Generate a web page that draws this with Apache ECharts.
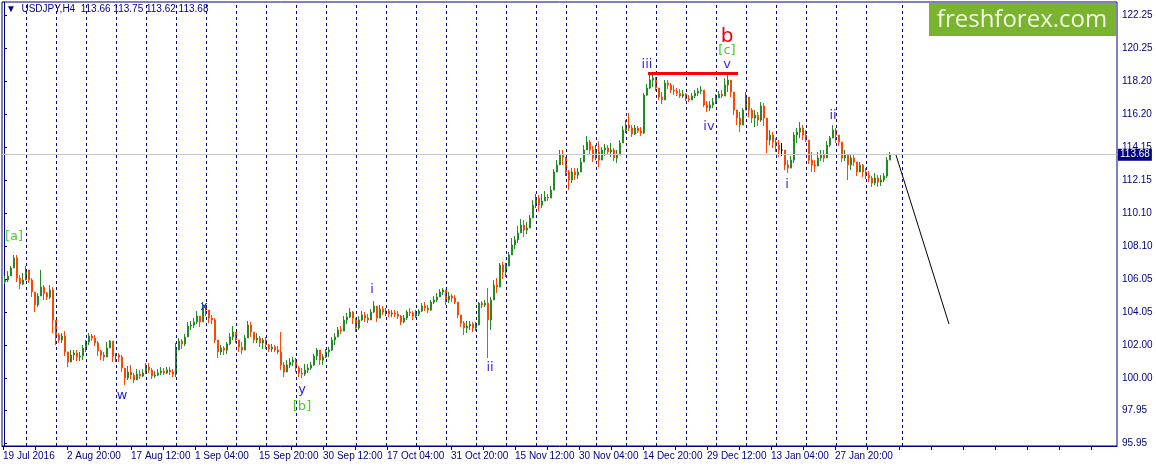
<!DOCTYPE html>
<html><head><meta charset="utf-8">
<script src="https://cdn.jsdelivr.net/npm/echarts/dist/echarts.min.js"></script>
<style>html,body{margin:0;padding:0;background:#fff}#c{width:1156px;height:467px}</style>
</head><body><div id="c"></div>
<script>
// ---- data (USDJPY H4, each candle = 3 H4 bars) ----
const barsPerCandle = 3;
const firstOpen = 105.87;
const closes = [
105.99,106.24,106.73,107.34,106.11,105.75,105.99,106.61,105.99,105.26,
104.46,105.01,105.56,105.19,104.95,105.38,103.54,102.62,102.31,102.56,
101.58,100.96,101.39,101.51,101.27,101.33,101.82,102.19,102.56,102.43,
102.13,101.64,101.39,101.27,101.82,102.25,101.33,101.39,101.27,100.59,
99.98,100.35,100.16,99.86,100.22,100.10,100.29,100.65,100.47,100.10,
100.16,100.29,100.41,100.29,100.47,100.35,100.22,101.70,102.25,102.07,
102.50,103.17,103.23,103.42,103.78,103.42,104.27,104.15,103.66,103.54,
102.31,101.58,101.82,101.70,102.07,102.50,102.80,102.31,101.88,101.70,
102.43,103.23,102.80,102.31,102.43,102.13,102.31,102.01,101.76,101.88,
101.70,101.58,100.78,100.35,100.78,100.96,101.08,100.59,100.29,100.22,
100.47,100.59,100.78,101.33,101.70,101.08,101.27,101.58,101.70,102.31,
102.50,102.93,102.86,103.54,103.72,104.03,103.66,103.05,103.54,103.85,
103.66,103.54,104.03,104.40,103.66,104.21,104.03,104.09,103.91,103.97,
103.91,103.78,103.42,103.66,104.03,103.97,103.78,103.91,104.09,104.40,
104.27,104.15,104.64,104.77,104.95,105.26,105.38,104.77,105.01,104.89,
104.64,103.85,103.35,103.05,103.17,103.29,103.05,103.23,104.58,104.46,
104.58,103.54,104.77,105.68,105.56,106.91,106.48,106.85,107.53,108.14,
108.45,108.88,109.37,109.06,109.18,109.80,110.59,111.02,110.59,110.84,
111.08,111.02,111.51,112.62,113.05,113.66,113.54,112.62,112.13,112.62,
112.43,112.62,113.23,113.97,114.46,113.97,113.48,113.85,113.35,113.97,
114.09,113.85,113.97,113.48,113.66,114.40,115.19,115.50,115.32,114.95,
115.32,115.13,115.01,117.34,117.77,118.26,118.38,117.77,117.22,117.04,
118.08,117.96,117.65,117.59,117.46,117.28,117.40,117.10,117.04,117.28,
117.46,117.59,117.65,116.73,116.54,116.73,116.91,117.16,117.40,117.28,
117.96,118.26,117.53,116.42,115.93,115.50,116.42,117.22,116.42,115.93,
116.11,115.81,116.67,115.93,114.58,114.89,114.46,114.27,113.97,113.97,
113.05,112.86,113.35,114.89,115.07,115.32,114.89,114.58,113.35,113.05,
112.99,113.48,113.66,113.48,114.27,114.70,115.19,114.89,114.46,113.48,
113.66,113.05,113.48,113.23,112.62,113.05,112.62,112.43,112.25,111.94,
112.25,112.00,112.13,112.37,113.35,113.68];
const highs = [
106.24,106.54,106.85,107.53,107.53,106.30,106.42,106.85,106.48,106.11,
105.26,105.19,106.61,105.68,105.26,105.68,105.56,103.23,102.74,102.74,
102.86,101.58,101.70,101.70,101.70,101.58,102.01,102.31,102.74,102.68,
102.62,102.25,101.70,101.58,102.19,102.31,102.25,101.51,101.51,101.39,
100.59,100.72,100.78,100.29,100.53,100.47,100.53,100.90,100.90,100.59,
100.41,100.53,100.65,100.59,100.65,100.65,100.53,102.13,102.43,102.37,
102.68,103.42,103.48,103.66,104.09,103.72,104.64,104.46,104.03,103.85,
103.66,102.19,102.01,101.94,102.19,102.74,103.17,102.80,102.31,102.19,
102.62,103.48,103.42,102.80,102.74,102.56,102.43,102.50,102.07,102.07,
102.01,101.94,102.80,100.96,101.08,101.21,101.27,101.21,100.72,100.59,
100.84,100.84,100.96,101.45,101.82,101.58,101.45,101.76,101.88,102.50,
102.74,103.11,103.17,103.78,103.97,104.27,104.09,103.54,103.78,104.09,
104.03,103.91,104.21,104.70,104.40,104.46,104.40,104.27,104.21,104.15,
104.15,104.09,103.85,103.85,104.15,104.27,104.09,104.15,104.21,104.58,
104.64,104.46,104.77,105.01,105.19,105.44,105.50,105.26,105.26,105.13,
105.07,104.58,103.85,103.48,103.48,103.48,103.42,103.42,104.64,104.70,
104.77,105.50,104.95,105.99,106.11,107.04,107.10,107.04,107.71,108.57,
108.69,109.31,109.73,109.67,109.55,109.98,110.90,111.27,111.21,111.27,
111.45,111.27,111.76,112.80,113.35,113.97,113.97,113.48,112.74,112.86,
112.86,112.86,113.48,114.27,114.83,114.58,114.21,114.27,114.52,114.15,
114.34,114.27,114.40,114.09,113.97,114.58,115.44,115.81,116.24,115.50,
115.50,115.44,115.38,117.46,118.02,118.69,118.57,118.45,117.77,117.53,
118.26,118.26,118.08,117.96,117.77,117.71,117.65,117.46,117.34,117.46,
117.65,117.77,117.89,117.53,116.97,116.97,117.16,117.40,117.59,117.65,
118.38,118.63,118.14,117.16,116.42,116.30,116.54,117.53,117.16,116.54,
116.42,116.30,116.91,116.85,115.38,115.19,115.07,114.70,114.58,114.40,
113.78,113.35,113.60,115.07,115.32,115.69,115.50,115.19,114.09,113.85,
113.35,113.85,113.97,113.97,114.52,114.83,115.50,115.32,114.83,114.09,
113.97,113.54,113.66,113.66,113.23,113.23,113.11,112.86,112.68,112.37,
112.56,112.43,112.43,112.56,113.54,113.85];
const lows = [
105.75,105.87,106.24,106.73,105.87,105.44,105.68,105.99,105.81,104.95,
104.03,104.34,105.01,104.77,104.77,104.83,102.74,102.01,102.13,102.13,
101.33,100.65,100.96,101.08,101.02,101.02,101.08,101.58,102.01,102.25,
101.94,101.33,101.08,101.02,101.27,101.82,100.96,100.96,100.96,100.35,
99.55,99.86,99.92,99.67,99.98,99.92,100.04,100.22,100.29,99.92,
99.98,100.10,100.16,100.16,100.22,100.16,100.04,100.04,101.88,101.76,
101.94,102.56,102.93,103.05,103.29,103.11,103.54,103.78,103.35,103.29,
102.13,101.21,101.39,101.39,101.45,102.01,102.31,102.13,101.58,101.45,
101.70,102.43,102.50,102.13,102.13,101.88,101.76,101.76,101.58,101.58,
101.58,101.45,100.47,100.04,100.41,100.59,100.72,100.35,100.04,99.98,
100.10,100.29,100.47,100.72,101.08,100.78,100.78,101.21,101.27,101.64,
102.01,102.50,102.68,102.93,103.29,103.66,103.29,102.80,102.93,103.48,
103.42,103.35,103.54,103.97,103.42,103.66,103.85,103.78,103.72,103.72,
103.72,103.60,103.23,103.35,103.54,103.78,103.54,103.66,103.78,104.03,
104.09,103.97,104.09,104.52,104.64,105.01,105.07,104.46,104.58,104.64,
104.52,103.66,103.11,102.62,102.74,102.93,102.80,102.86,103.66,104.27,
104.34,101.21,102.93,105.07,105.19,106.18,106.05,106.18,107.04,107.71,
107.89,108.26,108.88,108.63,108.81,109.18,110.16,110.41,110.22,110.41,
110.84,110.84,111.02,112.13,112.62,113.11,113.05,112.37,111.51,111.94,
112.13,112.19,112.74,113.35,113.97,113.66,113.23,113.35,112.92,113.48,
113.60,113.72,113.54,113.29,113.17,113.97,114.77,115.01,115.13,114.77,
114.89,115.01,114.83,114.95,117.28,117.71,117.83,117.59,117.04,116.79,
117.28,117.71,117.46,117.34,117.28,117.16,117.16,116.97,116.91,117.04,
117.16,117.28,117.40,116.61,116.30,116.36,116.54,116.79,117.16,117.16,
117.34,117.53,117.22,116.11,115.50,115.07,115.81,116.73,115.99,115.62,
115.38,115.44,115.69,115.44,113.78,114.27,114.09,113.85,113.54,113.60,
112.74,112.56,112.92,113.17,114.40,114.70,114.58,114.46,113.11,112.62,
112.62,113.05,113.29,113.23,113.48,114.15,114.77,114.40,114.21,113.23,
113.29,112.13,112.74,112.99,112.37,112.68,112.31,112.19,112.00,111.70,
111.82,111.70,111.76,112.00,112.25,113.35];

const xTickLabels = ['19 Jul 2016','2 Aug 20:00','17 Aug 12:00','1 Sep 04:00','15 Sep 20:00','30 Sep 12:00','17 Oct 04:00','31 Oct 20:00','15 Nov 12:00','30 Nov 04:00','14 Dec 20:00','29 Dec 12:00','13 Jan 04:00','27 Jan 20:00'];
const yTickLabels = ['95.95','97.95','100.00','102.00','104.05','106.05','108.10','110.10','112.15','114.15','116.20','118.20','120.25','122.25'];
const lastPrice = 113.68;
const headerText = 'USDJPY,H4  113.66 113.75 113.62 113.68';
// wave annotations: [text, bar index, price, kind]
const waveLabels = [
  ['[a]',10,108.63,'green'],['w',118,98.88,'blue'],['x',200,104.34,'blue'],
  ['y',298,99.24,'blue'],['[b]',298,98.22,'green'],['i',368,105.38,'violet'],
  ['ii',486,100.59,'violet'],['iii',643,119.18,'violet'],['iv',705,115.40,'violet'],
  ['v',723,119.22,'violet'],['[c]',723,120.04,'green'],['b',723,120.92,'red'],
  ['i',783,111.82,'violet'],['ii',829,116.05,'violet']
];
const resistance = {fromBar:644, toBar:734, price:118.70};
const projection = [[892,113.66],[945,103.29]];

// ---- build ----
const candleData = closes.map((c,i)=>{
  const o = i===0 ? firstOpen : closes[i-1];
  const h = Math.max(highs[i], o, c), l = Math.min(lows[i], o, c);
  return [i*barsPerCandle+1, o, c, l, h];
});
const yBottom = 95.95, yTop = 122.25;
const yStep = (yTop - yBottom)/(yTickLabels.length-1);
const yTicks = yTickLabels.map((_,k)=>yBottom + k*yStep);
const xLabelVals = xTickLabels.map((_,k)=>k*64-1);
const xTickVals = []; for(let v=-1; v<=1113; v+=32) xTickVals.push(v);
const sepVals = []; for(let k=0;k<=28;k++) sepVals.push(22.5+30*k); sepVals.push(898.5);

const NAVY = '#000080';
const FONT = 'Liberation Sans, Arial, sans-serif';
const colors = {green:'#4CCB2A', blue:'#1E1ED8', violet:'#3A1ED8', red:'#F0000F'};

const chart = echarts.init(document.getElementById('c'), null, {renderer:'canvas'});
chart.setOption({
  animation:false,
  backgroundColor:'#fff',
  grid:{left:2, top:2, width:1115, height:444, show:true, borderColor:NAVY, borderWidth:1, backgroundColor:'#fff', outerBoundsMode:'none', containLabel:false},
  title:{text:'\u25BC  ' + headerText, left:6, top:4, padding:0,
    textStyle:{fontSize:10, fontWeight:'normal', color:NAVY, fontFamily:FONT}},
  xAxis:{type:'value', min:-2, max:1113, position:'bottom',
    axisLine:{show:true, lineStyle:{color:NAVY, width:1}},
    axisTick:{show:true, inside:false, length:4, customValues:xTickVals, lineStyle:{color:NAVY}},
    axisLabel:{show:true, customValues:xLabelVals, align:'left', margin:5, fontSize:10, color:NAVY, fontFamily:FONT,
      formatter:(v)=>xTickLabels[Math.round((v+1)/64)] || ''},
    splitLine:{show:false}},
  yAxis:{type:'value', min:95.81, max:123.05, position:'right', scale:true,
    axisLine:{show:true, lineStyle:{color:NAVY, width:1}},
    axisTick:{show:true, inside:false, length:3, customValues:yTicks, lineStyle:{color:NAVY}},
    axisLabel:{show:true, customValues:yTicks, margin:5, fontSize:10, color:NAVY, fontFamily:FONT,
      formatter:(v)=>yTickLabels[Math.round((v-yBottom)/yStep)] || ''},
    splitLine:{show:false}},
  graphic:[
    {type:'rect', shape:{x:929, y:3, width:187, height:33}, style:{fill:'#7AB32E'}, z:100},
    {type:'text', x:1022, y:20, style:{text:'freshforex.com', fill:'#F2F7E8', font:'24px "Open Sans", sans-serif', align:'center', verticalAlign:'middle'}, z:101}
  ],
  series:[
    {type:'line', data:[], z:1, silent:true,
      markLine:{silent:true, symbol:'none', animation:false, label:{show:false},
        lineStyle:{color:'#0000A0', type:[3,3], width:1},
        data: sepVals.map(v=>({xAxis:v}))}},
    {type:'candlestick', data:candleData, z:2, barWidth:2,
      itemStyle:{color:'#228B22', color0:'#FF4500', borderColor:'#228B22', borderColor0:'#FF4500', borderColorDoji:'#000', borderWidth:1},
      markLine:{silent:true, symbol:'none', animation:false,
        data:[
          {yAxis:lastPrice, lineStyle:{color:'#C8C8C8', type:'solid', width:1},
            label:{show:true, position:'end', distance:1, formatter:lastPrice.toFixed(2), backgroundColor:NAVY, color:'#fff', padding:[1,2,1,2], fontSize:10, fontFamily:FONT}},
          [{coord:[resistance.fromBar, resistance.price], lineStyle:{color:'#FF0000', type:'solid', width:3}, label:{show:false}},
           {coord:[resistance.toBar, resistance.price]}]
        ]}},
    {type:'line', data:projection, z:3, symbol:'none', silent:true, lineStyle:{color:'#000', width:1}},
    {type:'scatter', z:4, symbolSize:0, silent:true, itemStyle:{opacity:1},
      data: waveLabels.map(w=>({name:w[0], value:[w[1], w[2]],
        label:{color:colors[w[3]], fontSize: w[3]==='red'?20:13}})),
      label:{show:true, position:'inside', formatter:(p)=>p.name, fontFamily:'DejaVu Sans, sans-serif', opacity:1}}
  ]
});
</script></body></html>
